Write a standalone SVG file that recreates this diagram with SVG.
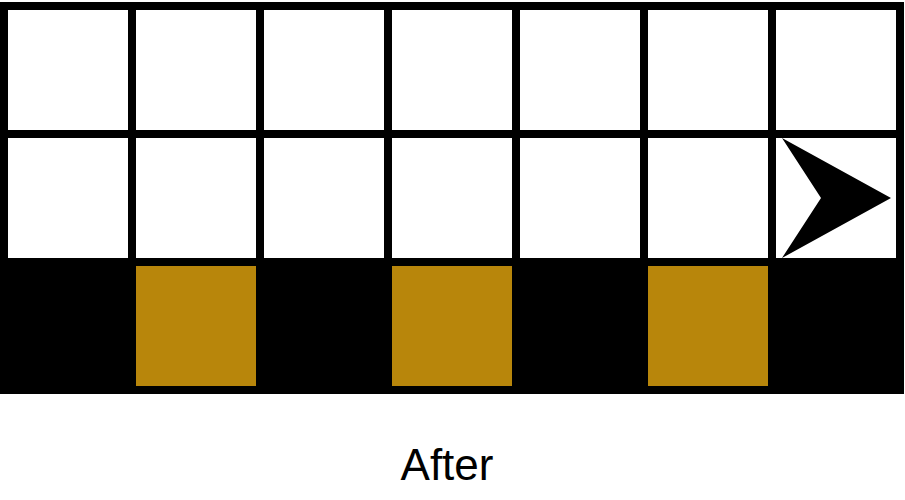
<svg xmlns="http://www.w3.org/2000/svg" width="905" height="500" viewBox="0 0 905 500">
<style>
.w{fill:#ffffff}
.g{fill:#b8860b}
.lbl{font-family:"Liberation Sans",Arial,sans-serif;font-size:44px;fill:#000;text-anchor:middle}
</style>
<rect x="0" y="0" width="905" height="500" fill="#ffffff"/>
<g id="grid">
<rect x="0" y="2" width="904" height="392" fill="#000"/>
</g>
<g id="row0">
<rect class="w" x="8" y="10" width="120" height="120"/>
<rect class="w" x="136" y="10" width="120" height="120"/>
<rect class="w" x="264" y="10" width="120" height="120"/>
<rect class="w" x="392" y="10" width="120" height="120"/>
<rect class="w" x="520" y="10" width="120" height="120"/>
<rect class="w" x="648" y="10" width="120" height="120"/>
<rect class="w" x="776" y="10" width="120" height="120"/>
</g>
<g id="row1">
<rect class="w" x="8" y="138" width="120" height="120"/>
<rect class="w" x="136" y="138" width="120" height="120"/>
<rect class="w" x="264" y="138" width="120" height="120"/>
<rect class="w" x="392" y="138" width="120" height="120"/>
<rect class="w" x="520" y="138" width="120" height="120"/>
<rect class="w" x="648" y="138" width="120" height="120"/>
<rect class="w" x="776" y="138" width="120" height="120"/>
</g>
<g id="row2">
<rect class="g" x="136" y="266" width="120" height="120"/>
<rect class="g" x="392" y="266" width="120" height="120"/>
<rect class="g" x="648" y="266" width="120" height="120"/>
</g>
<g id="arrow">
<polygon points="782,138 891,198 782,258 821,198" fill="#000"/>
</g>
<text class="lbl" x="447" y="480">After</text>
</svg>
